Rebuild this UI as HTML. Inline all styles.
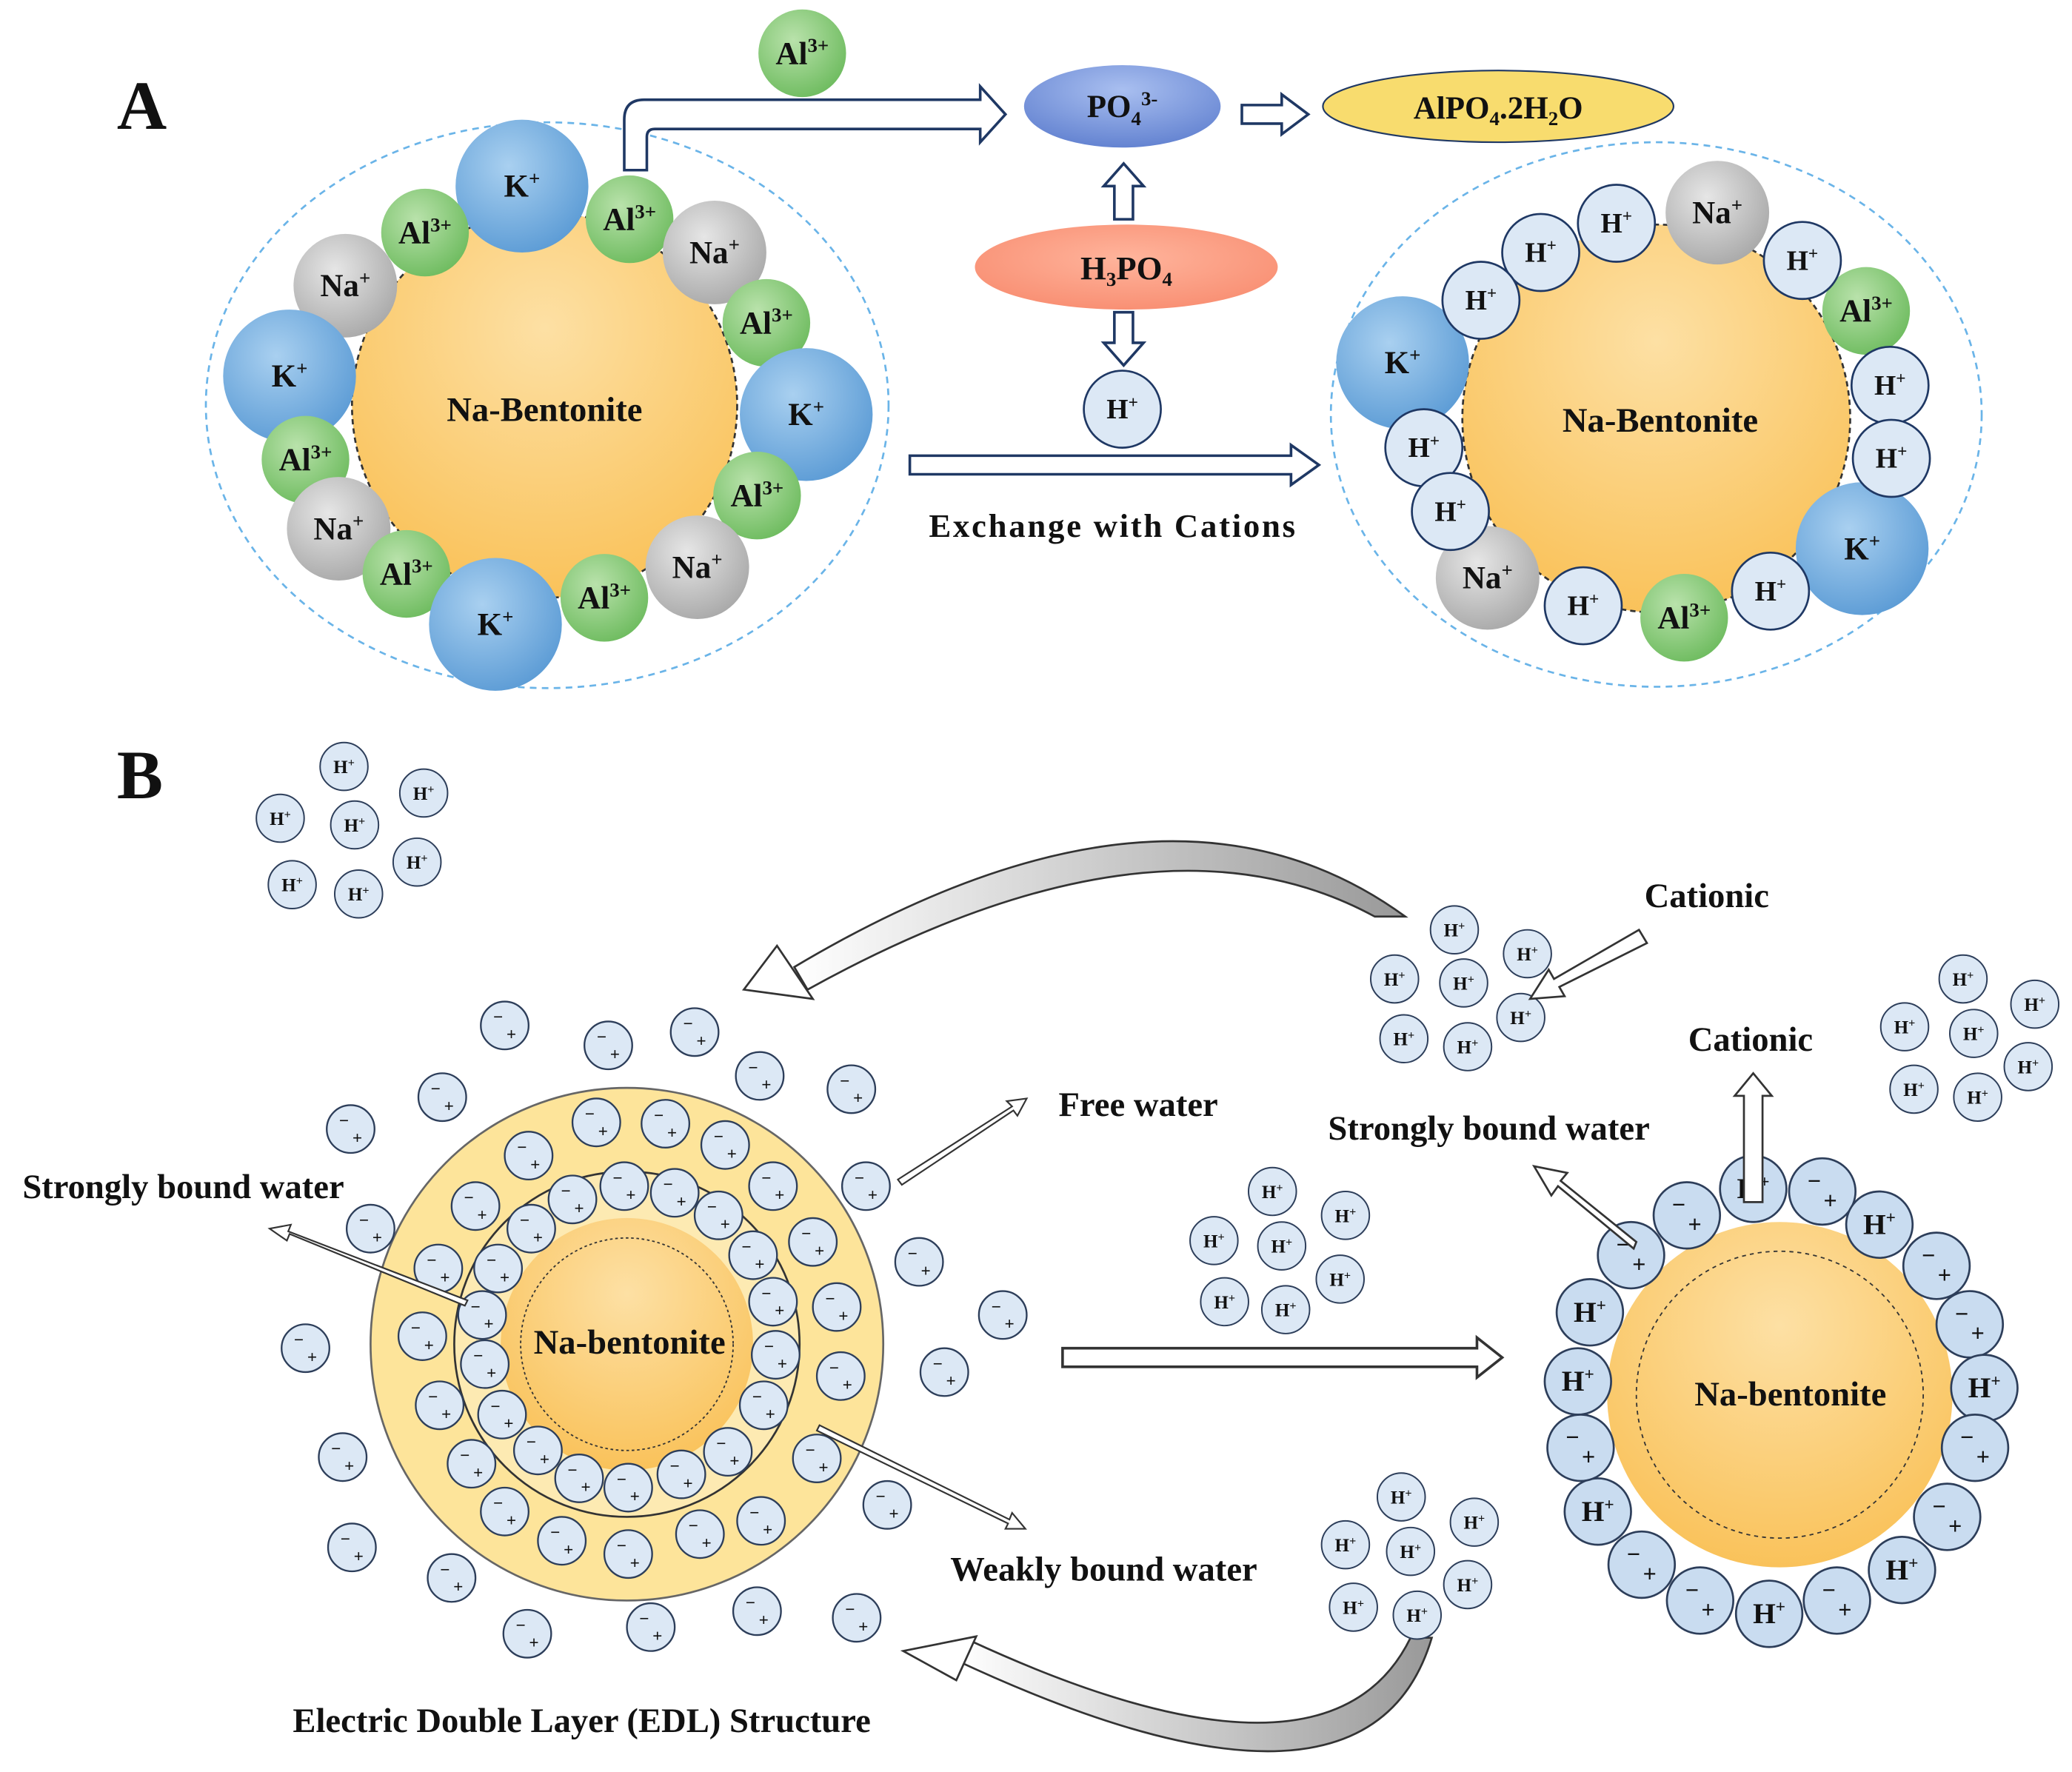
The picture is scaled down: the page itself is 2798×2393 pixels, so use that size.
<!DOCTYPE html>
<html><head><meta charset="utf-8"><style>
html,body{margin:0;padding:0;background:#fff}
svg{display:block}
text{font-family:"Liberation Serif",serif;font-weight:bold;fill:#111}
</style></head><body>
<svg width="2798" height="2393" viewBox="0 0 1560 1334" xmlns="http://www.w3.org/2000/svg">
<defs>
<radialGradient id="gK" cx="40%" cy="35%" r="70%"><stop offset="0" stop-color="#a9d0f0"/><stop offset="1" stop-color="#5b9bd5"/></radialGradient>
<radialGradient id="gA" cx="40%" cy="35%" r="70%"><stop offset="0" stop-color="#b9e2ab"/><stop offset="1" stop-color="#6dbb5e"/></radialGradient>
<radialGradient id="gN" cx="40%" cy="35%" r="70%"><stop offset="0" stop-color="#e6e6e6"/><stop offset="1" stop-color="#a8a8a8"/></radialGradient>
<radialGradient id="gO" cx="50%" cy="30%" r="75%"><stop offset="0" stop-color="#fde0a4"/><stop offset="1" stop-color="#f9c055"/></radialGradient>
<radialGradient id="gP" cx="50%" cy="30%" r="75%"><stop offset="0" stop-color="#a9bff0"/><stop offset="1" stop-color="#5f7fcf"/></radialGradient>
<radialGradient id="gS" cx="50%" cy="40%" r="75%"><stop offset="0" stop-color="#ffb49c"/><stop offset="1" stop-color="#f7876a"/></radialGradient>
<linearGradient id="gG" x1="0" y1="0" x2="1" y2="0"><stop offset="0" stop-color="#fff"/><stop offset="1" stop-color="#999"/></linearGradient>
<g id="c"><circle r="18" fill="#dce8f5" stroke="#2d3e5a" stroke-width="1.3"/><text x="-5" y="-2" font-size="13" text-anchor="middle" font-family="Liberation Sans,sans-serif" font-weight="normal">−</text><text x="5" y="11" font-size="13" text-anchor="middle" font-family="Liberation Sans,sans-serif" font-weight="normal">+</text></g>
<g id="h"><circle r="18" fill="#dce8f5" stroke="#2d3e5a" stroke-width="1.1"/><text x="0" y="5" font-size="14" text-anchor="middle" font-weight="normal">H<tspan font-size="9" dy="-5">+</tspan></text></g>
<g id="b"><circle r="25" fill="#c9dcf0" stroke="#2d3e5a" stroke-width="1.5"/><text x="-6" y="-2" font-size="18" text-anchor="middle" font-family="Liberation Sans,sans-serif" font-weight="normal">−</text><text x="6" y="13" font-size="18" text-anchor="middle" font-family="Liberation Sans,sans-serif" font-weight="normal">+</text></g>
<g id="bh"><circle r="25" fill="#c9dcf0" stroke="#2d3e5a" stroke-width="1.5"/><text x="0" y="7" font-size="22" text-anchor="middle" font-weight="normal">H<tspan font-size="13" dy="-8">+</tspan></text></g>
<g id="hA"><circle r="29" fill="#dce8f5" stroke="#1f3864" stroke-width="1.5"/><text x="0" y="7" font-size="21" text-anchor="middle">H<tspan font-size="13" dy="-8">+</tspan></text></g>
</defs>

<!-- ===== A ===== -->
<text x="88" y="97" font-size="52">A</text>
<ellipse cx="412" cy="305" rx="257" ry="213" fill="none" stroke="#6ab4e8" stroke-width="1.5" stroke-dasharray="5 4"/>
<circle cx="410" cy="305" r="145" fill="url(#gO)" stroke="#333" stroke-width="1.5" stroke-dasharray="4 3"/>
<text x="410" y="317" font-size="26" text-anchor="middle">Na-Bentonite</text>

<g font-size="24" text-anchor="middle">
<circle cx="393" cy="140" r="50" fill="url(#gK)"/><text x="393" y="148">K<tspan font-size="15" dy="-9">+</tspan></text>
<circle cx="320" cy="175" r="33" fill="url(#gA)"/><text x="320" y="183">Al<tspan font-size="15" dy="-9">3+</tspan></text>
<circle cx="474" cy="165" r="33" fill="url(#gA)"/><text x="474" y="173">Al<tspan font-size="15" dy="-9">3+</tspan></text>
<circle cx="538" cy="190" r="39" fill="url(#gN)"/><text x="538" y="198">Na<tspan font-size="15" dy="-9">+</tspan></text>
<circle cx="260" cy="215" r="39" fill="url(#gN)"/><text x="260" y="223">Na<tspan font-size="15" dy="-9">+</tspan></text>
<circle cx="577" cy="243" r="33" fill="url(#gA)"/><text x="577" y="251">Al<tspan font-size="15" dy="-9">3+</tspan></text>
<circle cx="218" cy="283" r="50" fill="url(#gK)"/><text x="218" y="291">K<tspan font-size="15" dy="-9">+</tspan></text>
<circle cx="607" cy="312" r="50" fill="url(#gK)"/><text x="607" y="320">K<tspan font-size="15" dy="-9">+</tspan></text>
<circle cx="230" cy="346" r="33" fill="url(#gA)"/><text x="230" y="354">Al<tspan font-size="15" dy="-9">3+</tspan></text>
<circle cx="570" cy="373" r="33" fill="url(#gA)"/><text x="570" y="381">Al<tspan font-size="15" dy="-9">3+</tspan></text>
<circle cx="255" cy="398" r="39" fill="url(#gN)"/><text x="255" y="406">Na<tspan font-size="15" dy="-9">+</tspan></text>
<circle cx="525" cy="427" r="39" fill="url(#gN)"/><text x="525" y="435">Na<tspan font-size="15" dy="-9">+</tspan></text>
<circle cx="306" cy="432" r="33" fill="url(#gA)"/><text x="306" y="440">Al<tspan font-size="15" dy="-9">3+</tspan></text>
<circle cx="455" cy="450" r="33" fill="url(#gA)"/><text x="455" y="458">Al<tspan font-size="15" dy="-9">3+</tspan></text>
<circle cx="373" cy="470" r="50" fill="url(#gK)"/><text x="373" y="478">K<tspan font-size="15" dy="-9">+</tspan></text>
<circle cx="604" cy="40" r="33" fill="url(#gA)"/><text x="604" y="48">Al<tspan font-size="15" dy="-9">3+</tspan></text>
</g>

<path d="M470,128 L470,90 Q470,75 485,75 L738,75 L738,65 L757,86 L738,107 L738,97 L493,97 Q487,97 487,103 L487,128 Z" fill="#fff" stroke="#1f3864" stroke-width="2"/>
<ellipse cx="845" cy="80" rx="74" ry="31" fill="url(#gP)"/>
<text x="845" y="88" font-size="24" text-anchor="middle">PO<tspan font-size="15" dy="6">4</tspan><tspan font-size="15" dy="-15">3-</tspan></text>
<path d="M935,79 L965,79 L965,71 L985,86 L965,101 L965,93 L935,93 Z" fill="#fff" stroke="#1f3864" stroke-width="2"/>
<ellipse cx="1128" cy="80" rx="132" ry="27" fill="#f8dc6e" stroke="#1f3864" stroke-width="1.2"/>
<text x="1128" y="89" font-size="24" text-anchor="middle">AlPO<tspan font-size="15" dy="5">4</tspan><tspan dy="-5">.2H</tspan><tspan font-size="15" dy="5">2</tspan><tspan dy="-5">O</tspan></text>
<path d="M839,165 L839,140 L831,140 L846,123 L861,140 L853,140 L853,165 Z" fill="#fff" stroke="#1f3864" stroke-width="2"/>
<ellipse cx="848" cy="201" rx="114" ry="32" fill="url(#gS)"/>
<text x="848" y="210" font-size="25" text-anchor="middle">H<tspan font-size="15" dy="5">3</tspan><tspan dy="-5">PO</tspan><tspan font-size="15" dy="5">4</tspan></text>
<path d="M839,235 L839,258 L831,258 L846,275 L861,258 L853,258 L853,235 Z" fill="#fff" stroke="#1f3864" stroke-width="2"/>
<use href="#hA" x="845" y="308"/>
<path d="M685,343 L972,343 L972,335 L993,350 L972,365 L972,357 L685,357 Z" fill="#fff" stroke="#1f3864" stroke-width="2"/>
<text x="838" y="404" font-size="25" text-anchor="middle" letter-spacing="1.5">Exchange with Cations</text>

<ellipse cx="1247" cy="312" rx="245" ry="205" fill="none" stroke="#6ab4e8" stroke-width="1.5" stroke-dasharray="5 4"/>
<circle cx="1247" cy="315" r="146" fill="url(#gO)" stroke="#333" stroke-width="1.5" stroke-dasharray="4 3"/>
<text x="1250" y="325" font-size="26" text-anchor="middle">Na-Bentonite</text>
<g font-size="24" text-anchor="middle">
<circle cx="1293" cy="160" r="39" fill="url(#gN)"/><text x="1293" y="168">Na<tspan font-size="15" dy="-9">+</tspan></text>
<circle cx="1405" cy="234" r="33" fill="url(#gA)"/><text x="1405" y="242">Al<tspan font-size="15" dy="-9">3+</tspan></text>
<circle cx="1056" cy="273" r="50" fill="url(#gK)"/><text x="1056" y="281">K<tspan font-size="15" dy="-9">+</tspan></text>
<circle cx="1402" cy="413" r="50" fill="url(#gK)"/><text x="1402" y="421">K<tspan font-size="15" dy="-9">+</tspan></text>
<circle cx="1120" cy="435" r="39" fill="url(#gN)"/><text x="1120" y="443">Na<tspan font-size="15" dy="-9">+</tspan></text>
<circle cx="1268" cy="465" r="33" fill="url(#gA)"/><text x="1268" y="473">Al<tspan font-size="15" dy="-9">3+</tspan></text>
</g>
<use href="#hA" x="1217" y="168"/><use href="#hA" x="1160" y="190"/><use href="#hA" x="1357" y="196"/>
<use href="#hA" x="1115" y="226"/><use href="#hA" x="1423" y="290"/><use href="#hA" x="1072" y="337"/>
<use href="#hA" x="1424" y="345"/><use href="#hA" x="1092" y="385"/><use href="#hA" x="1192" y="456"/>
<use href="#hA" x="1333" y="445"/>

<!-- ===== B ===== -->
<text x="88" y="601" font-size="52">B</text>
<use href="#h" x="259" y="577"/><use href="#h" x="319" y="597"/><use href="#h" x="211" y="616"/><use href="#h" x="267" y="621"/><use href="#h" x="314" y="649"/><use href="#h" x="220" y="666"/><use href="#h" x="270" y="673"/>

<path d="M1058,690 Q880,560 598,728 L608,745 Q870,600 1035,690 Z" fill="url(#gG)" stroke="#333" stroke-width="1.5"/>
<path d="M560,745 L585,712 L612,752 Z" fill="#fff" stroke="#333" stroke-width="1.5"/>
<path d="M1078,1233 Q1030,1395 720,1250 L730,1235 Q1000,1360 1062,1233 Z" fill="url(#gG)" stroke="#333" stroke-width="1.5"/>
<path d="M680,1243 L735,1232 L720,1265 Z" fill="#fff" stroke="#333" stroke-width="1.5"/>

<circle cx="472" cy="1012" r="193" fill="#fde49a" stroke="#666" stroke-width="1.5"/>
<circle cx="472" cy="1012" r="130" fill="#fdeab2" stroke="#333" stroke-width="1.5"/>
<circle cx="472" cy="1012" r="95" fill="url(#gO)"/>
<circle cx="472" cy="1012" r="80" fill="none" stroke="#333" stroke-dasharray="2 2"/>
<text x="474" y="1019" font-size="26" text-anchor="middle">Na-bentonite</text>
<g>
<use href="#c" x="449" y="845"/><use href="#c" x="501" y="846"/><use href="#c" x="546" y="862"/><use href="#c" x="582" y="893"/><use href="#c" x="612" y="935"/><use href="#c" x="630" y="984"/><use href="#c" x="633" y="1036"/><use href="#c" x="615" y="1098"/><use href="#c" x="573" y="1145"/><use href="#c" x="527" y="1155"/><use href="#c" x="473" y="1170"/><use href="#c" x="423" y="1160"/><use href="#c" x="380" y="1138"/><use href="#c" x="355" y="1102"/><use href="#c" x="331" y="1058"/><use href="#c" x="318" y="1006"/><use href="#c" x="330" y="955"/><use href="#c" x="358" y="908"/><use href="#c" x="398" y="870"/>
<use href="#c" x="470" y="893"/><use href="#c" x="508" y="898"/><use href="#c" x="541" y="915"/><use href="#c" x="567" y="945"/><use href="#c" x="582" y="980"/><use href="#c" x="584" y="1020"/><use href="#c" x="575" y="1058"/><use href="#c" x="548" y="1093"/><use href="#c" x="513" y="1110"/><use href="#c" x="473" y="1120"/><use href="#c" x="436" y="1113"/><use href="#c" x="405" y="1092"/><use href="#c" x="378" y="1065"/><use href="#c" x="365" y="1027"/><use href="#c" x="363" y="990"/><use href="#c" x="375" y="955"/><use href="#c" x="400" y="925"/><use href="#c" x="431" y="903"/>
<use href="#c" x="380" y="772"/><use href="#c" x="458" y="787"/><use href="#c" x="523" y="777"/><use href="#c" x="572" y="810"/><use href="#c" x="641" y="820"/><use href="#c" x="333" y="826"/><use href="#c" x="264" y="850"/><use href="#c" x="652" y="893"/><use href="#c" x="279" y="925"/><use href="#c" x="692" y="950"/><use href="#c" x="755" y="990"/><use href="#c" x="230" y="1015"/><use href="#c" x="711" y="1033"/><use href="#c" x="258" y="1097"/><use href="#c" x="668" y="1133"/><use href="#c" x="265" y="1165"/><use href="#c" x="340" y="1188"/><use href="#c" x="397" y="1230"/><use href="#c" x="490" y="1225"/><use href="#c" x="570" y="1213"/><use href="#c" x="645" y="1218"/>
</g>
<path d="M676,888 L762,833 L758,829 L773,827 L766,840 L763,836 L679,892 Z" fill="#fff" stroke="#333" stroke-width="1.2"/>
<path d="M350,983 L218,929 L216,934 L203,925 L219,922 L217,927 L352,979 Z" fill="#fff" stroke="#333" stroke-width="1.2"/>
<path d="M617,1073 L760,1144 L762,1139 L772,1151 L757,1151 L759,1147 L615,1077 Z" fill="#fff" stroke="#333" stroke-width="1.2"/>
<text x="857" y="840" font-size="26" text-anchor="middle">Free water</text>
<text x="138" y="902" font-size="26" text-anchor="middle">Strongly bound water</text>
<text x="831" y="1190" font-size="26" text-anchor="middle">Weakly bound water</text>
<text x="438" y="1304" font-size="26" text-anchor="middle">Electric Double Layer (EDL) Structure</text>

<path d="M800,1015 L1112,1015 L1112,1007 L1131,1022 L1112,1037 L1112,1029 L800,1029 Z" fill="#fff" stroke="#333" stroke-width="2"/>
<use href="#h" x="958" y="897"/><use href="#h" x="1013" y="915"/><use href="#h" x="914" y="934"/><use href="#h" x="965" y="938"/><use href="#h" x="1009" y="963"/><use href="#h" x="922" y="980"/><use href="#h" x="968" y="986"/>
<use href="#h" x="1095" y="700"/><use href="#h" x="1150" y="718"/><use href="#h" x="1050" y="737"/><use href="#h" x="1102" y="740"/><use href="#h" x="1145" y="766"/><use href="#h" x="1057" y="782"/><use href="#h" x="1105" y="788"/>
<use href="#h" x="1478" y="737"/><use href="#h" x="1532" y="756"/><use href="#h" x="1434" y="773"/><use href="#h" x="1486" y="778"/><use href="#h" x="1527" y="803"/><use href="#h" x="1441" y="820"/><use href="#h" x="1489" y="826"/>
<use href="#h" x="1055" y="1127"/><use href="#h" x="1110" y="1146"/><use href="#h" x="1013" y="1163"/><use href="#h" x="1062" y="1168"/><use href="#h" x="1105" y="1193"/><use href="#h" x="1019" y="1210"/><use href="#h" x="1067" y="1216"/>
<text x="1285" y="683" font-size="26" text-anchor="middle">Cationic</text>
<text x="1318" y="791" font-size="26" text-anchor="middle">Cationic</text>
<text x="1121" y="858" font-size="26" text-anchor="middle">Strongly bound water</text>
<path d="M1234,700 L1170,737 L1166,730 L1152,752 L1178,750 L1174,743 L1240,710 Z" fill="#fff" stroke="#333" stroke-width="1.5"/>

<circle cx="1340" cy="1050" r="130" fill="url(#gO)"/>
<circle cx="1340" cy="1050" r="108" fill="none" stroke="#333" stroke-dasharray="3 3"/>
<text x="1348" y="1058" font-size="26" text-anchor="middle">Na-bentonite</text>
<use href="#b" x="1228" y="945"/><use href="#b" x="1270" y="915"/><use href="#bh" x="1320" y="895"/><use href="#b" x="1372" y="897"/><use href="#bh" x="1415" y="922"/><use href="#b" x="1458" y="953"/><use href="#b" x="1483" y="997"/><use href="#bh" x="1494" y="1045"/><use href="#b" x="1487" y="1090"/><use href="#b" x="1466" y="1142"/><use href="#bh" x="1432" y="1182"/><use href="#b" x="1383" y="1205"/><use href="#bh" x="1332" y="1215"/><use href="#b" x="1280" y="1205"/><use href="#b" x="1236" y="1178"/><use href="#bh" x="1203" y="1138"/><use href="#b" x="1190" y="1090"/><use href="#bh" x="1188" y="1040"/><use href="#bh" x="1197" y="988"/>
<path d="M1313,905 L1313,825 L1306,825 L1320,808 L1334,825 L1327,825 L1327,905 Z" fill="#fff" stroke="#333" stroke-width="1.5"/>
<path d="M1230,940 L1173,893 L1168,900 L1155,878 L1180,883 L1175,889 L1232,935 Z" fill="#fff" stroke="#333" stroke-width="1.5"/>
</svg>
</body></html>
